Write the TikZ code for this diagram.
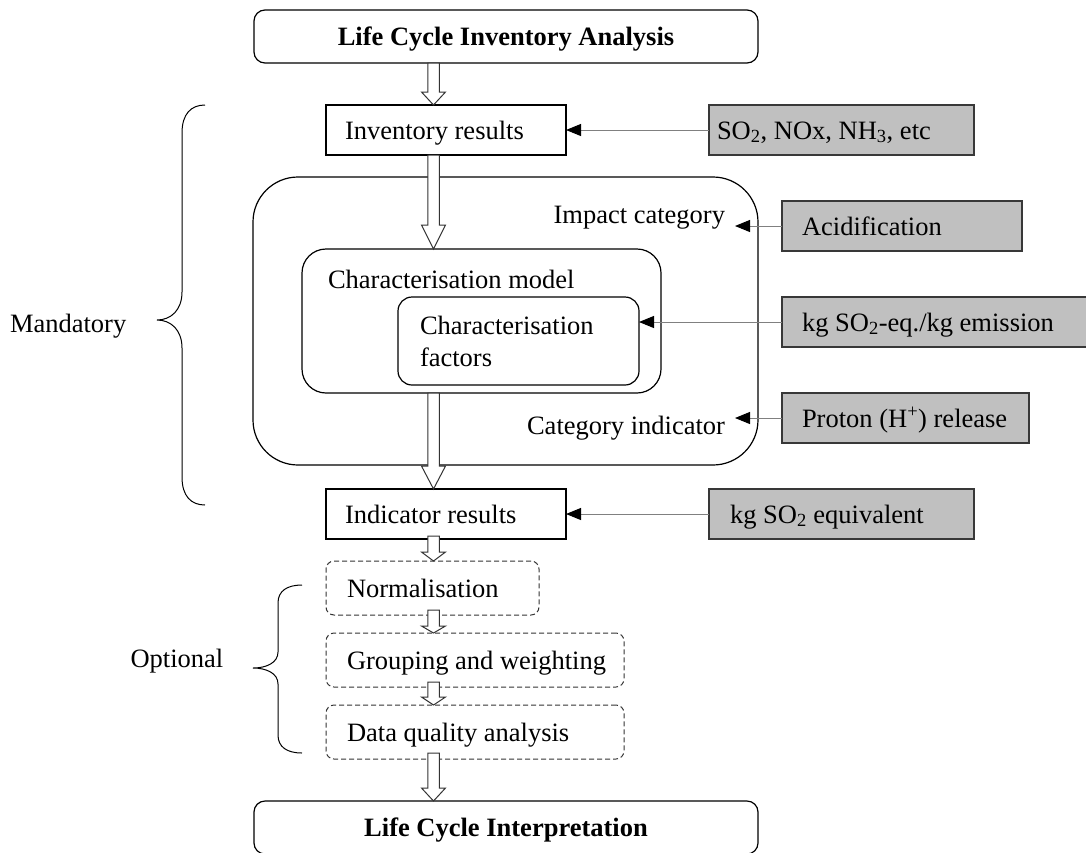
\documentclass[tikz,border=0pt]{standalone}
\usepackage{fontspec}
\setmainfont{Liberation Serif}
\usetikzlibrary{calc,arrows.meta}

\definecolor{boxgrey}{HTML}{C0C0C0}
\definecolor{edgegrey}{HTML}{383838}
\definecolor{feedgrey}{HTML}{808080}

\newcommand\bodyfont{\fontsize{26.5pt}{32pt}\selectfont}
% left-aligned text of fixed width inside a box
\newcommand\lt[2]{\makebox[#1][l]{#2}}

% hollow block arrow: #1 start of the shaft, #2 tip, #3 head length
\newcommand\hollowarrow[3]{%
  \filldraw[hollow] let \p1=(#1), \p2=(#2) in
    (\x1-5.75pt,\y1) -- (\x1-5.75pt,\y2+#3) -- (\x1-12pt,\y2+#3) -- (\x2,\y2)
    -- (\x1+12pt,\y2+#3) -- (\x1+5.75pt,\y2+#3) -- (\x1+5.75pt,\y1) -- cycle;}

\begin{document}
\begin{tikzpicture}[x=1pt,y=-1pt,
  every node/.style={font=\bodyfont, inner sep=0pt, outer sep=0pt},
  frame/.style={draw=black, line width=1.2pt},
  oneline/.style={text height=18pt, text depth=0pt},
  plainbox/.style={frame, oneline, minimum height=50pt},
  greybox/.style={draw=edgegrey, fill=boxgrey, line width=1.2pt, oneline, minimum height=50pt},
  dashbox/.style={draw=black!80, line width=1pt, dash pattern=on 5pt off 3pt,
    rounded corners=8pt, oneline, minimum height=54pt},
  endbox/.style={frame, rounded corners=11pt, oneline, minimum width=504pt,
    minimum height=53pt, font=\bodyfont\bfseries},
  hollow/.style={fill=white, draw=black!80, line width=1pt},
  feed/.style={draw=feedgrey, line width=1pt,
    -{Triangle[length=15pt,width=12pt,color=black]}},
  brace/.style={draw=black, line width=1pt}]

\useasboundingbox (0,0) rectangle (1086,852);
\clip (0,0) rectangle (1086,852);

% axis of the main flow
\coordinate (ax) at (433.5,0);

% phases before and after
\node[endbox] (top) at (506,36.5) {Life Cycle Inventory Analysis};
\node[endbox] (bot) at (506,827.5) {Life Cycle Interpretation};

% mandatory part
\node[plainbox, minimum width=240pt, inner xsep=19pt] (inv) at (446,130) {\lt{202pt}{Inventory results}};
\node[frame, rounded corners=45pt, minimum width=505pt, minimum height=288pt] (imp) at (505.5,321) {};
\node[frame, rounded corners=24pt, minimum width=359pt, minimum height=144pt] (cm) at (481.5,321) {};
\node[frame, rounded corners=14pt, minimum width=241pt, minimum height=88pt,
      text width=197pt, inner xsep=22pt, align=left] (cf) at (518.5,341) {Characterisation\\factors};
\node[anchor=base west] (cmlabel) at (328,288) {Characterisation model};
\node[anchor=base east, inner xsep=10pt] (impcat) at (735,223) {Impact category};
\node[anchor=base east, inner xsep=10pt] (catind) at (735,434) {Category indicator};
\node[plainbox, minimum width=240pt, inner xsep=19pt] (ind) at (446,514) {\lt{202pt}{Indicator results}};

% optional elements
\node[dashbox, minimum width=213pt, inner xsep=21pt] (norm) at (432.5,588) {\lt{171pt}{Normalisation}};
\node[dashbox, minimum width=298pt, inner xsep=21pt] (grp) at (475,660) {\lt{256pt}{Grouping and weighting}};
\node[dashbox, minimum width=298pt, inner xsep=21pt] (dq) at (475,732) {\lt{256pt}{Data quality analysis}};

% example: acidification
\node[greybox, minimum width=265pt, inner xsep=8pt] (so2) at (841.5,130) {\lt{249pt}{SO\textsubscript{2}, NOx, NH\textsubscript{3}, etc}};
\node[greybox, minimum width=240pt, inner xsep=20pt] (acid) at (902,226) {\lt{200pt}{Acidification}};
\node[greybox, minimum width=310pt, inner xsep=20pt] (eq) at (937,322) {\lt{270pt}{kg SO\textsubscript{2}-eq./kg emission}};
\node[greybox, minimum width=247pt, inner xsep=20pt] (proton) at (905.5,418) {\lt{207pt}{Proton (H\textsuperscript{+}) release}};
\node[greybox, minimum width=265pt, inner xsep=21pt] (equiv) at (841.5,514) {\lt{223pt}{kg SO\textsubscript{2} equivalent}};

\draw[feed] (so2.west) -- (inv.east);
\draw[feed] (acid.west) -- (acid.west -| impcat.east);
\draw[feed] (eq.west) -- (eq.west -| cf.east);
\draw[feed] (proton.west) -- (proton.west -| catind.east);
\draw[feed] (equiv.west) -- (ind.east);

% flow arrows
\hollowarrow{ax |- top.south}{ax |- inv.north}{13pt}
\hollowarrow{ax |- inv.south}{ax |- cm.north}{24pt}
\hollowarrow{ax |- cm.south}{ax |- ind.north}{23pt}
\hollowarrow{[yshift=3pt]ax |- ind.south}{ax |- norm.north}{9pt}
\hollowarrow{[yshift=5pt]ax |- norm.south}{ax |- grp.north}{7pt}
\hollowarrow{[yshift=5pt]ax |- grp.south}{ax |- dq.north}{8pt}
\hollowarrow{[yshift=6pt]ax |- dq.south}{ax |- bot.north}{13pt}

% braces and their labels
\draw[brace] (205,105) .. controls (191,105) and (182,114) .. (182,133) -- (182,292)
  .. controls (182,310) and (171,320) .. (157,320)
  .. controls (171,320) and (182,330) .. (182,348) -- (182,477)
  .. controls (182,496) and (191,505) .. (205,505);
\node[anchor=base west] (mand) at (10,332) {Mandatory};

\draw[brace] (302,585) .. controls (287,585) and (278,591) .. (278,603) -- (278,652)
  .. controls (278,663) and (266,668) .. (253,668)
  .. controls (266,668) and (278,673) .. (278,684) -- (278,735)
  .. controls (278,747) and (287,753) .. (302,753);
\node[anchor=base west] (opt) at (130.5,667) {Optional};

\end{tikzpicture}
\end{document}
